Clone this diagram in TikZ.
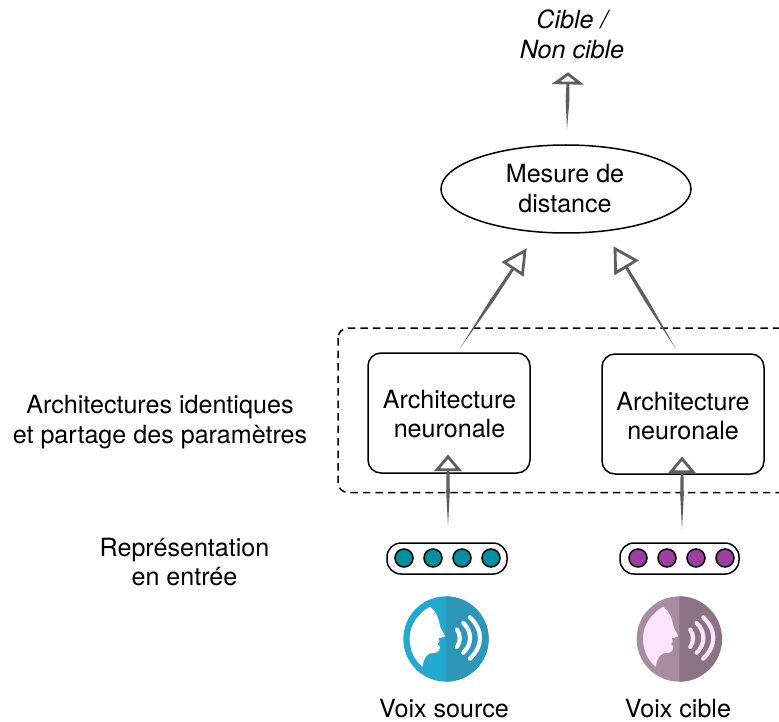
\documentclass[tikz,border=0pt]{standalone}
\usepackage{fontspec}
\setmainfont{TeX Gyre Heros}
\usetikzlibrary{calc,shapes.geometric}
\definecolor{tealdot}{HTML}{00909E}
\definecolor{purpledot}{HTML}{9C3F9E}
\definecolor{blueL}{HTML}{22A9D0}
\definecolor{blueR}{HTML}{2E97B8}
\definecolor{mauveL}{HTML}{A88C9F}
\definecolor{mauveR}{HTML}{8C7384}
\definecolor{headpink}{HTML}{FCE4FF}
\definecolor{arrowgray}{HTML}{5E5E5E}
\tikzset{
  txt/.style={font=\fontsize{25.1}{29.5}\selectfont, align=center, inner sep=0pt, text=black},
  netbox/.style={draw=black, line width=1.5pt, rounded corners=13pt, minimum width=162pt, minimum height=120pt, inner sep=0pt},
  distell/.style={draw=black, line width=1.5pt, ellipse, minimum width=250pt, minimum height=88pt, inner sep=0pt},
  pillbox/.style={draw=black, line width=1.5pt, rounded corners=14pt, minimum height=31pt, inner sep=0pt},
  dotn/.style={circle, draw=black, line width=1.5pt, minimum size=18pt, inner sep=0pt},
  shaft/.style={fill=arrowgray},
  headtri/.style={draw=arrowgray, line width=2.8pt, line join=miter, fill=none},
  wave/.style={line width=4.2pt, line cap=round}
}
% start, tip, head length, half width
\newcommand\sketcharrow[4]{%
  \coordinate (hb) at ($(#2)!#3!(#1)$);
  \coordinate (hl) at ($(hb)!#4!90:(#2)$);
  \coordinate (hr) at ($(hb)!#4!-90:(#2)$);
  \coordinate (hm) at ($(#1)!.6!(hb)$);
  \fill[shaft] (#1) -- ($(hm)!1.8pt!90:(hb)$) -- ($(hb)!1.4pt!90:(#2)$) -- ($(hb)!1.4pt!-90:(#2)$) -- ($(hm)!1.8pt!-90:(hb)$) -- cycle;
  \draw[headtri] (#2) -- (hl) -- (hr) -- cycle;
}
% x of zoom origin, left colour, right colour, head colour
\newcommand\voiceicon[4]{%
  \begin{scope}[shift={(#1,585)}, x=0.3333pt, y=-0.3333pt]
    \fill[#2] (153,162) circle (128);
    \begin{scope}
      \clip (153,0) rectangle (300,320);
      \fill[#3] (153,162) circle (128);
    \end{scope}
    \fill[#4] (105,65) .. controls (70,85) and (44,120) .. (44,160)
      .. controls (44,195) and (58,225) .. (82,245)
      .. controls (86,228) and (90,212) .. (103,206)
      .. controls (115,202) and (128,206) .. (133,195)
      .. controls (136,188) and (136,180) .. (128,177)
      .. controls (135,172) and (135,165) .. (130,160)
      .. controls (135,157) and (146,158) .. (150,154)
      .. controls (146,142) and (137,135) .. (135,122)
      .. controls (132,100) and (122,78) .. (105,65) -- cycle;
    \draw[#4, wave] (186,134) .. controls (197,150) and (197,170) .. (186,186);
    \draw[#4, wave] (205,114) .. controls (232,140) and (232,178) .. (205,203);
    \draw[#4, wave] (225,97) .. controls (265,135) and (265,182) .. (225,221);
  \end{scope}
}
\begin{document}
\begin{tikzpicture}[x=1pt,y=-1pt]
\useasboundingbox (0,0) rectangle (779,722);
\clip (0,0) rectangle (779,722);
\draw[black, line width=1.5pt, dash pattern=on 7.5pt off 5pt, rounded corners=10pt] (338,328) rectangle (800,492.5);
\node[txt] (cible) at (572,34.5) {\itshape Cible /\\\itshape Non cible};
\node[distell] (dist) at (566,189) {};
\node[txt] (distlabel) at (565,188.5) {Mesure de\\distance};
\node[netbox] (box1) at (449,413) {};
\node[txt] (box1label) at (449.5,414) {Architecture\\neuronale};
\node[netbox] (box2) at (683,414) {};
\node[txt] (box2label) at (683,416) {Architecture\\neuronale};
\node[txt] (shared) at (160,422) {Architectures identiques\\et partage des paramètres};
\node[txt] (repr) at (184.5,562) {Représentation\\en entrée};
\node[pillbox, minimum width=120pt] (pill1) at (447,558.5) {};
\node[pillbox, minimum width=119pt] (pill2) at (679.5,558.5) {};
\foreach \n/\x in {a/404,b/433,c/462,d/491}{\node[dotn, fill=tealdot] (dot1\n) at (\x,558) {};}
\foreach \n/\x in {a/638,b/667,c/696,d/725}{\node[dotn, fill=purpledot] (dot2\n) at (\x,558) {};}
\voiceicon{395}{blueL}{blueR}{white}
\voiceicon{628.3}{mauveL}{mauveR}{headpink}
\node[txt] (src) at (444,709) {Voix source};
\node[txt] (tgt) at (678,709) {Voix cible};
\coordinate (s1) at ($(box1.north)+(11,-4)$);
\coordinate (t1) at ($(dist.south)+(-41,17)$);
\coordinate (s2) at ($(box2.north)+(-7,-4)$);
\coordinate (t2) at ($(dist.south)+(49,15)$);
\coordinate (s3) at ($(dist.north)+(1,-15)$);
\coordinate (t3) at ($(cible.south)+(-4,15)$);
\coordinate (s4) at ($(pill1.north)+(1,-16)$);
\coordinate (t4) at ($(box1.south)+(-1,-17)$);
\coordinate (s5) at ($(pill2.north)+(2.5,-13)$);
\coordinate (t5) at ($(box2.south)+(-1,-16)$);
\sketcharrow{s1}{t1}{21pt}{11pt}
\sketcharrow{s2}{t2}{21pt}{12pt}
\sketcharrow{s3}{t3}{9pt}{12pt}
\sketcharrow{s4}{t4}{13pt}{11pt}
\sketcharrow{s5}{t5}{13pt}{11pt}
\end{tikzpicture}
\end{document}
